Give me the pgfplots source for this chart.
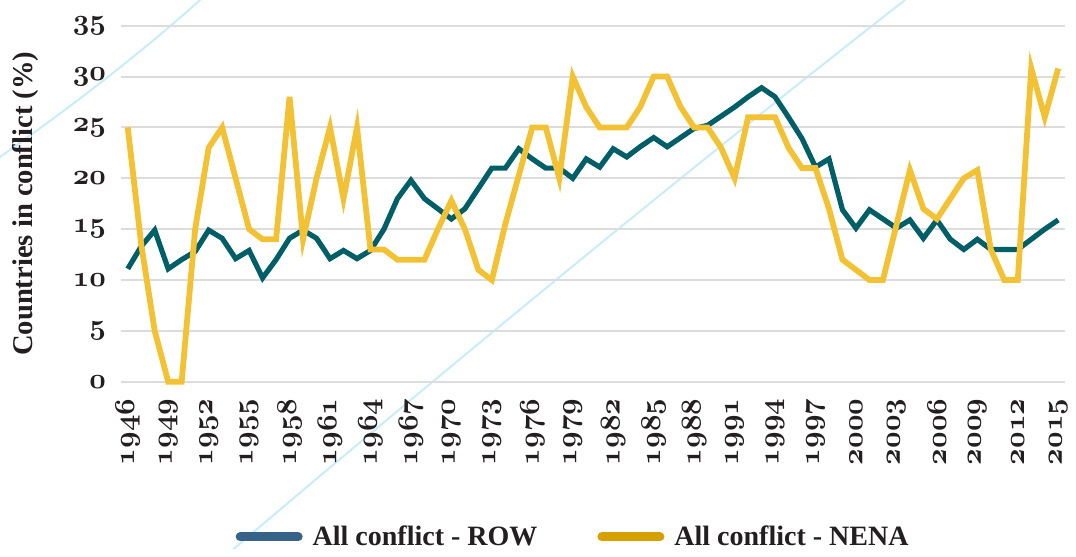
\documentclass[border=0pt]{standalone}
\usepackage{fontspec}
\usepackage{pgfplots}
\usepackage{pgfplotstable}
\pgfplotsset{compat=1.18}
\newfontfamily\labfont{Liberation Serif}
\definecolor{rowteal}{HTML}{005F66}
\definecolor{nenagold}{HTML}{F2C234}
\definecolor{rowleg}{HTML}{386388}
\definecolor{nenaleg}{HTML}{D4A100}
\definecolor{gridgray}{HTML}{DCDCDC}
\definecolor{arcblue}{HTML}{C9ECF9}
\definecolor{txt}{HTML}{231F20}
% old-style bold digits for the tick labels
\newcommand{\os}[1]{{\boldmath$\mathnormal{#1}$}}

\pgfplotstableread{
year row nena
1946 11.1 25
1947 13.3 13.5
1948 14.9 5
1949 11.1 0
1950 12.0 0
1951 12.8 15
1952 14.9 23
1953 14.1 25
1954 12.1 20
1955 12.9 15
1956 10.2 14
1957 12.0 14
1958 14.1 28
1959 14.9 14
1960 14.1 20
1961 12.1 25
1962 12.9 18
1963 12.1 25
1964 12.9 13
1965 15.0 13
1966 18.0 12
1967 19.8 12
1968 18.0 12
1969 17.0 15
1970 16.0 17.8
1971 17.0 15
1972 19.0 11
1973 21.0 10
1974 21.0 15.5
1975 22.9 20.3
1976 21.9 25
1977 21.0 25
1978 21.0 20
1979 20.0 30
1980 21.9 27
1981 21.1 25
1982 22.9 25
1983 22.1 25
1984 23.1 27
1985 24.0 30
1986 23.1 30
1987 24.0 27
1988 24.9 25
1989 25.2 25
1990 26.1 23
1991 27.0 20
1992 28.0 26
1993 28.9 26
1994 28.0 26
1995 26.0 23
1996 23.9 21
1997 21.1 21
1998 21.9 17
1999 16.9 12
2000 15.1 11
2001 16.9 10
2002 16.0 10
2003 15.1 15.4
2004 15.9 20.8
2005 14.1 17
2006 15.9 16
2007 14.0 18
2008 13.0 20
2009 14.0 20.8
2010 13.0 13
2011 13.0 10
2012 13.0 10
2013 14.0 30.8
2014 15.0 26
2015 15.9 30.8
}\conflict

\begin{document}
\begin{tikzpicture}
% pixel grid of the reference: axis box runs from (121,25.3) to (1065,381.7)
\begin{scope}[x=0.5pt,y=-0.5pt,shift={(-60.5pt,190.85pt)}]
  \useasboundingbox (0,0) rectangle (1076,548);
  \begin{scope}
    \clip (0,0) rectangle (1076,548);
    \draw[arcblue,line width=1pt] (-10,164) .. controls (60,115) and (140,55) .. (210,-9);
    \draw[arcblue,line width=1pt] (230,552) .. controls (450,365) and (700,160) .. (905,0);
  \end{scope}
\end{scope}
\begin{axis}[
  at={(0,0)}, anchor=south west,
  scale only axis, width=472pt, height=178pt,
  xmin=1945.5, xmax=2015.5, ymin=0, ymax=35,
  clip=false,
  axis line style={draw=none},
  major tick length=0pt,
  ymajorgrids, grid style={gridgray,line width=1pt},
  ytick={0,5,...,35},
  yticklabels={\os{0},\os{5},\os{10},\os{15},\os{20},\os{25},\os{30},\os{35}},
  xtick={1946,1949,...,2015},
  xticklabels={\os{1946},\os{1949},\os{1952},\os{1955},\os{1958},\os{1961},
    \os{1964},\os{1967},\os{1970},\os{1973},\os{1976},\os{1979},\os{1982},
    \os{1985},\os{1988},\os{1991},\os{1994},\os{1997},\os{2000},\os{2003},
    \os{2006},\os{2009},\os{2012},\os{2015}},
  tick label style={font=\fontsize{14.4}{16}\selectfont,text=txt},
  xticklabel style={rotate=90,anchor=east},
  xticklabel shift=5pt,
  yticklabel shift=4pt,
  ylabel={Countries in conflict (\%)},
  ylabel style={at={(axis description cs:-0.1017,0.5)},anchor=center,
    font=\labfont\bfseries\fontsize{14.3}{16}\selectfont,text=txt},
  legend image code/.code={\draw (0pt,0pt) -- (29pt,0pt);},
  legend style={at={(axis description cs:0.48,-0.436)},anchor=center,
    draw=none,fill=none,legend columns=2,
    font=\labfont\bfseries\fontsize{14}{16}\selectfont,text=txt,
    /tikz/every odd column/.append style={column sep=3pt},
    /tikz/every even column/.append style={column sep=28pt}},
]
\addlegendimage{rowleg,line width=4.5pt,line cap=round}
\addlegendentry{All conflict - ROW}
\addlegendimage{nenaleg,line width=4.5pt,line cap=round}
\addlegendentry{All conflict - NENA}
\addplot[rowteal,line width=2.6pt,forget plot] table[x=year,y=row]{\conflict};
\addplot[nenagold,line width=2.9pt,forget plot] table[x=year,y=nena]{\conflict};
\end{axis}
\end{tikzpicture}
\end{document}
